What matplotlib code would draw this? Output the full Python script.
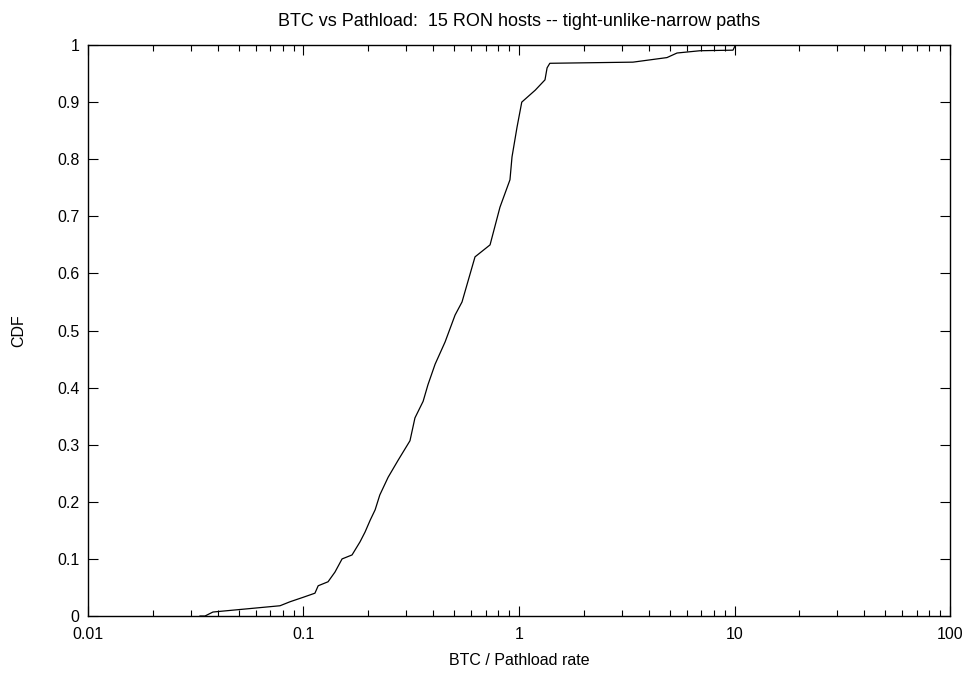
import matplotlib
matplotlib.use("Agg")
import matplotlib.pyplot as plt
from matplotlib.ticker import LogLocator, FixedLocator, NullFormatter

plt.rcParams["font.family"] = ["Liberation Sans", "DejaVu Sans"]

# CDF of BTC / Pathload rate
ratio = [0.0331, 0.0349, 0.0380, 0.0778, 0.0866, 0.100, 0.113, 0.117, 0.130,
         0.140, 0.151, 0.168, 0.183, 0.193, 0.204, 0.215, 0.226, 0.247, 0.275,
         0.312, 0.329, 0.359, 0.378, 0.408, 0.454, 0.505, 0.544, 0.625, 0.734,
         0.816, 0.908, 0.928, 0.979, 1.03, 1.19, 1.32, 1.35, 1.39, 3.38, 4.86,
         5.41, 6.92, 9.84, 10.1]
cdf = [0.0, 0.0, 0.007, 0.018, 0.025, 0.033, 0.040, 0.053, 0.060,
       0.077, 0.100, 0.107, 0.130, 0.147, 0.168, 0.186, 0.212, 0.243, 0.273,
       0.307, 0.347, 0.376, 0.405, 0.441, 0.480, 0.527, 0.550, 0.629, 0.650,
       0.716, 0.764, 0.804, 0.856, 0.900, 0.921, 0.939, 0.960, 0.968, 0.970, 0.978,
       0.986, 0.990, 0.991, 1.0]

yticks = [0, 0.1, 0.2, 0.3, 0.4, 0.5, 0.6, 0.7, 0.8, 0.9, 1]
xticks = [0.01, 0.1, 1, 10, 100]

fig = plt.figure(figsize=(9.7, 6.78), dpi=100)
ax = fig.add_axes([0.0907, 0.0914, 0.8887, 0.8422])
ax.plot(ratio, cdf, color="black", linewidth=0.9)

ax.set_xscale("log")
ax.set_xlim(0.01, 100)
ax.set_ylim(0, 1)
ax.xaxis.set_major_locator(FixedLocator(xticks))
ax.set_xticklabels(["0.01", "0.1", "1", "10", "100"])
ax.xaxis.set_minor_locator(LogLocator(base=10, subs=range(2, 10), numticks=20))
ax.xaxis.set_minor_formatter(NullFormatter())
ax.set_yticks(yticks)
ax.set_yticklabels(["0", "0.1", "0.2", "0.3", "0.4", "0.5", "0.6", "0.7", "0.8", "0.9", "1"])

ax.tick_params(which="both", direction="in", top=True, right=True,
               labelsize=11.5, width=0.8)
ax.tick_params(axis="x", pad=8)
ax.tick_params(axis="y", pad=6)
ax.tick_params(which="major", length=7)
ax.tick_params(which="minor", length=4)
for sp in ax.spines.values():
    sp.set_linewidth(1.0)

ax.set_xlabel("BTC / Pathload rate", fontsize=11.5, labelpad=8)
ax.set_ylabel("CDF", fontsize=11.5, labelpad=22)
ax.set_title("BTC vs Pathload:  15 RON hosts -- tight-unlike-narrow paths",
             fontsize=13, pad=14)

fig.savefig("out.png", dpi=100)
